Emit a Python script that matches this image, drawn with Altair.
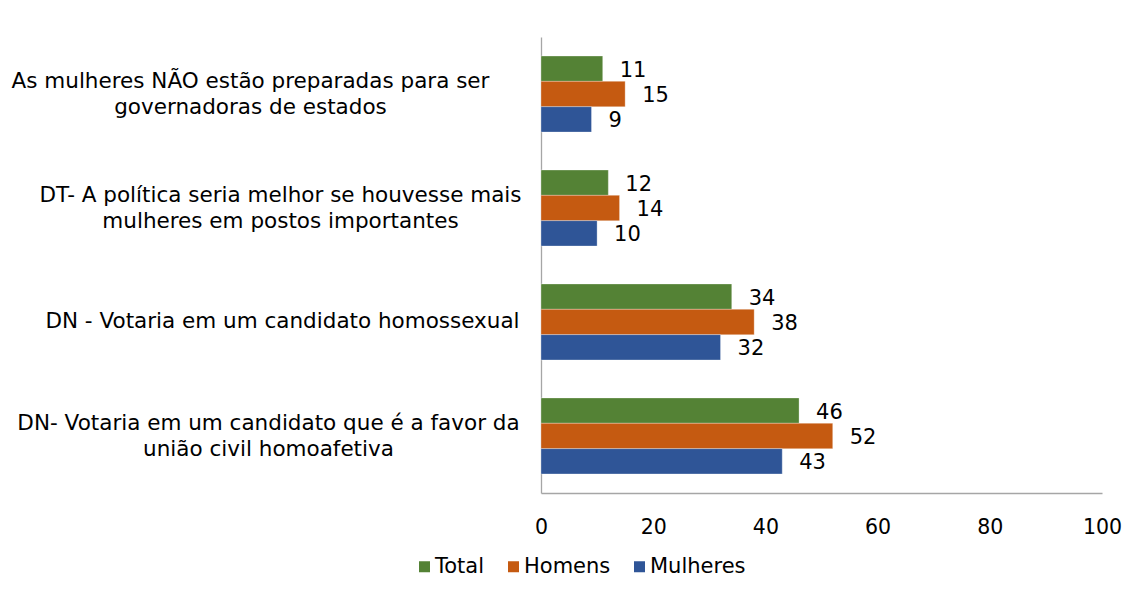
import json
import altair as alt
import pandas as pd

categorias = [
    "As mulheres NÃO estão preparadas para ser\ngovernadoras de estados",
    "DT- A política seria melhor se houvesse mais\nmulheres em postos importantes",
    "DN - Votaria em um candidato homossexual",
    "DN- Votaria em um candidato que é a favor da\nunião civil homoafetiva",
]
series = ["Total", "Homens", "Mulheres"]
total = [11, 12, 34, 46]
homens = [15, 14, 38, 52]
mulheres = [9, 10, 32, 43]
cores = ["#548235", "#C55A11", "#2F5597"]
x_ticks = [0, 20, 40, 60, 80, 100]
label_pad = [291, 261, 259, 273]

rows = []
for serie, vals in zip(series, [total, homens, mulheres]):
    for cat, v in zip(categorias, vals):
        rows.append({"categoria": cat, "serie": serie, "valor": v})
df = pd.DataFrame(rows)

FONT = "DejaVu Sans"
FS = 20.5
FS_CAT = 21.5
FS_LBL = 21

pad_cond = [
    {"test": "datum.value == " + json.dumps(c, ensure_ascii=False), "value": p}
    for c, p in zip(categorias, label_pad)
]

y_enc = alt.Y(
    "categoria:N",
    sort=categorias,
    title=None,
    scale=alt.Scale(paddingInner=0.333, paddingOuter=0.167),
    axis=alt.Axis(
        labelExpr="split(datum.label, '\\n')",
        labelAlign="center",
        labelBaseline="middle",
        labelPadding={"condition": pad_cond, "value": 270},
        labelOffset={"condition": {"test": "indexof(datum.value, '\\n') >= 0", "value": -12}, "value": 0},
        labelLineHeight=26,
        labelLimit=1000,
        labelFont=FONT,
        labelFontSize=FS_CAT,
        labelColor="#000000",
        ticks=False,
        tickSize=0,
        domainColor="#A6A6A6",
        domainWidth=1.3,
        grid=False,
    ),
)
yoff = alt.YOffset("serie:N", sort=series, scale=alt.Scale(paddingInner=0, paddingOuter=0))

x_enc = alt.X(
    "valor:Q",
    title=None,
    scale=alt.Scale(domain=[0, 100], nice=False),
    axis=alt.Axis(
        values=x_ticks,
        ticks=False,
        grid=False,
        domainColor="#A6A6A6",
        domainWidth=1.3,
        labelFont=FONT,
        labelFontSize=FS,
        labelColor="#000000",
        labelPadding=24,
        labelFlush=False,
    ),
)

base = alt.Chart(df).encode(y=y_enc, yOffset=yoff)

bars = base.mark_bar(stroke="#FFFFFF", strokeWidth=0.5, strokeOpacity=0.6).encode(
    x=x_enc,
    color=alt.Color(
        "serie:N",
        sort=series,
        scale=alt.Scale(domain=series, range=cores),
        legend=alt.Legend(
            title=None,
            orient="none",
            legendX=-127,
            legendY=519,
            direction="horizontal",
            symbolType="square",
            symbolSize=121,
            symbolStrokeWidth=0,
            labelFont=FONT,
            labelFontSize=FS_LBL,
            labelColor="#000000",
            labelOffset=0,
            columnPadding=18,
        ),
    ),
)

labels = base.mark_text(
    align="left", baseline="middle", dx=17, dy=2, font=FONT, fontSize=FS_LBL, color="#000000"
).encode(x=alt.X("valor:Q"), text=alt.Text("valor:Q"))

chart = (
    alt.layer(bars, labels)
    .properties(
        width=561,
        height=456,
        autosize=alt.AutoSizeParams(type="none"),
        padding={"left": 533, "top": 29, "right": 30, "bottom": 100},
        view=alt.ViewBackground(stroke=None, strokeWidth=0),
    )
    .configure_view(strokeWidth=0, stroke=None)
    .configure(background="#FFFFFF")
)

chart.save("out.html", embed_options={"renderer": "svg", "actions": False})
